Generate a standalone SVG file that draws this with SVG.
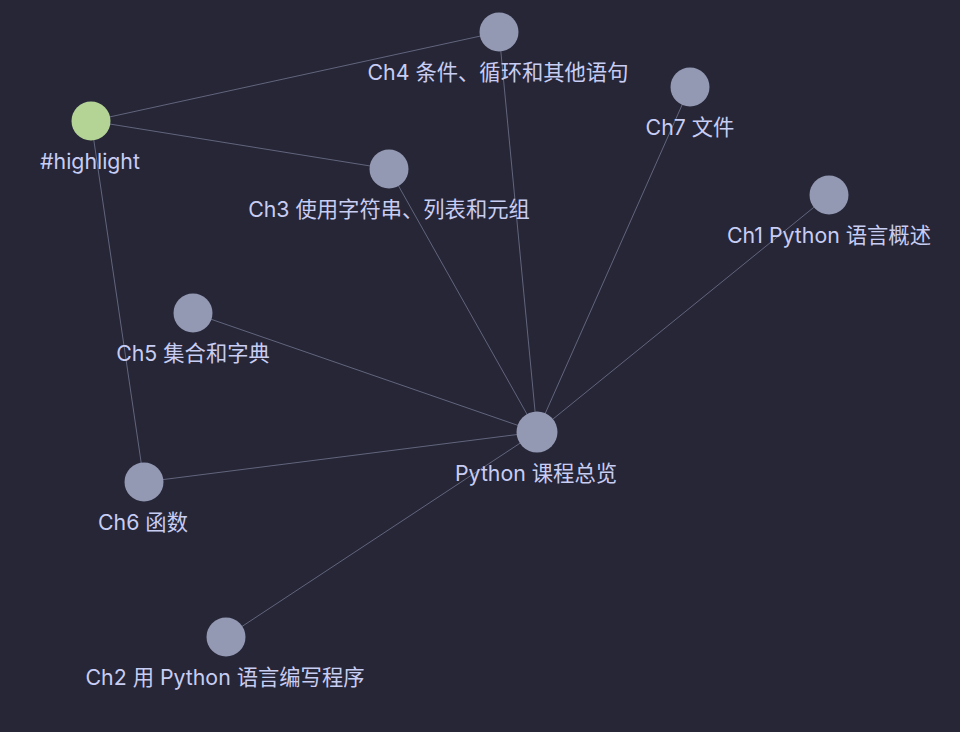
<svg xmlns="http://www.w3.org/2000/svg" width="960" height="732" viewBox="0 0 960 732">
<style>
.edge{stroke:#62657c;stroke-width:1;fill:none}
.n{fill:#9398b3}
.hl{fill:#b3d495}
text{font-family:Inter,"Noto Sans CJK SC",sans-serif;font-size:21.3px;fill:#c8cdf3;text-anchor:middle}
</style>
<rect width="960" height="732" fill="#262637"/>
<g id="edges">
<line class="edge" x1="91" y1="121" x2="499" y2="32"/>
<line class="edge" x1="91" y1="121" x2="389" y2="169"/>
<line class="edge" x1="91" y1="121" x2="144" y2="482"/>
<line class="edge" x1="499" y1="32" x2="537" y2="432"/>
<line class="edge" x1="389" y1="169" x2="537" y2="432"/>
<line class="edge" x1="690" y1="87" x2="537" y2="432"/>
<line class="edge" x1="829" y1="195" x2="537" y2="432"/>
<line class="edge" x1="193" y1="313" x2="537" y2="432"/>
<line class="edge" x1="144" y1="482" x2="537" y2="432"/>
<line class="edge" x1="226" y1="637" x2="537" y2="432"/>
</g>
<g id="ch4"><circle class="n" cx="499" cy="32" r="19.5"/><text x="498" y="80">Ch4 条件、循环和其他语句</text></g>
<g id="highlight"><circle class="hl" cx="91" cy="121" r="19.5"/><text x="90" y="169">#highlight</text></g>
<g id="ch3"><circle class="n" cx="389" cy="169" r="19.5"/><text x="389" y="217">Ch3 使用字符串、列表和元组</text></g>
<g id="ch7"><circle class="n" cx="690" cy="87" r="19.5"/><text x="690" y="135">Ch7 文件</text></g>
<g id="ch1"><circle class="n" cx="829" cy="195" r="19.5"/><text x="829" y="243">Ch1 Python 语言概述</text></g>
<g id="ch5"><circle class="n" cx="193" cy="313" r="19.5"/><text x="193" y="361">Ch5 集合和字典</text></g>
<g id="python"><circle class="n" cx="537" cy="432" r="20.5"/><text x="536" y="481">Python 课程总览</text></g>
<g id="ch6"><circle class="n" cx="144" cy="482" r="19.5"/><text x="143" y="530">Ch6 函数</text></g>
<g id="ch2"><circle class="n" cx="226" cy="637" r="19.5"/><text x="225" y="685">Ch2 用 Python 语言编写程序</text></g>
</svg>
